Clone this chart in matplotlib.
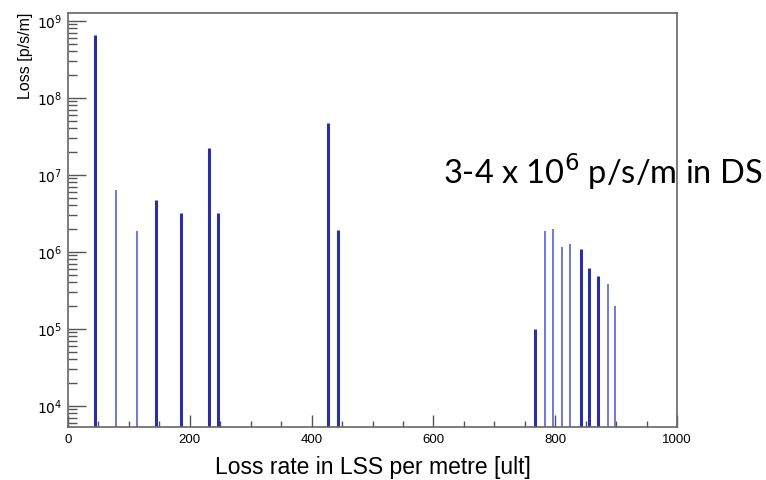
import numpy as np
import matplotlib.pyplot as plt
from matplotlib.ticker import MultipleLocator, LogLocator, FixedLocator

# loss peaks along the straight section (position, loss rate)
dark_pos = [45, 144, 185, 232, 247, 427, 443, 767, 842, 856, 871]
dark_loss = [6.6e8, 4.7e6, 3.2e6, 2.2e7, 3.2e6, 4.7e7, 1.9e6, 9.8e4, 1.08e6, 6.2e5, 4.9e5]
light_pos = [78, 113, 783, 796, 811, 825, 886, 899]
light_loss = [6.4e6, 1.87e6, 1.87e6, 2.0e6, 1.17e6, 1.27e6, 3.8e5, 1.95e5]

y_min, y_max = 5.3e3, 1.26e9
x_ticks = [0, 200, 400, 600, 800, 1000]
y_decades = [4, 5, 6, 7, 8, 9]

fig = plt.figure(figsize=(7.66, 4.8), dpi=100)
ax = fig.add_axes([68 / 766, 53 / 480, 609 / 766, 414 / 480])

ax.vlines(dark_pos, y_min, dark_loss, color='#2b2fa6', linewidth=2.2)
ax.vlines(light_pos, y_min, light_loss, color='#6f7ad6', linewidth=1.4)

ax.set_yscale('log')
ax.set_xlim(0, 1000)
ax.set_ylim(y_min, y_max)

ax.xaxis.set_major_locator(FixedLocator(x_ticks))
ax.xaxis.set_minor_locator(MultipleLocator(50))
ax.yaxis.set_major_locator(FixedLocator([10.0 ** d for d in y_decades]))
ax.yaxis.set_minor_locator(LogLocator(base=10, subs=np.arange(2, 10)))
ax.set_xticklabels([str(t) for t in x_ticks])
ax.set_yticklabels([f'$10^{{{d}}}$' for d in y_decades])

tick_font = ['Liberation Sans', 'DejaVu Sans']
ax.tick_params(axis='x', which='major', direction='in', length=8.5, width=1.0,
               color='#555555', pad=5, labelsize=9.5)
ax.tick_params(axis='x', which='minor', direction='in', length=4.5, width=1.0,
               color='#555555')
ax.tick_params(axis='y', which='major', direction='in', length=13, width=1.0,
               color='#555555', pad=4, labelsize=10)
ax.tick_params(axis='y', which='minor', direction='in', length=6.5, width=1.0,
               color='#555555')
for lab in ax.get_xticklabels() + ax.get_yticklabels():
    lab.set_family(tick_font)

for sp in ax.spines.values():
    sp.set_color('#666666')
    sp.set_linewidth(1.2)

ax.set_xlabel('Loss rate in LSS per metre [ult]', fontsize=16.5,
              family=['Liberation Sans', 'DejaVu Sans'], labelpad=7)
ax.yaxis.set_label_coords(-0.058, 1.0)
ax.set_ylabel('Loss [p/s/m]', fontsize=11.5, ha='right',
              family=['Liberation Sans', 'DejaVu Sans'])

fig.text(443 / 766, 1 - 172 / 480, r'3-4 x 10$^{6}$ p/s/m in DS', fontsize=23.5,
         family=['Lato', 'DejaVu Sans'], va='center', ha='left')

fig.savefig('out.png', dpi=100, facecolor='white')
